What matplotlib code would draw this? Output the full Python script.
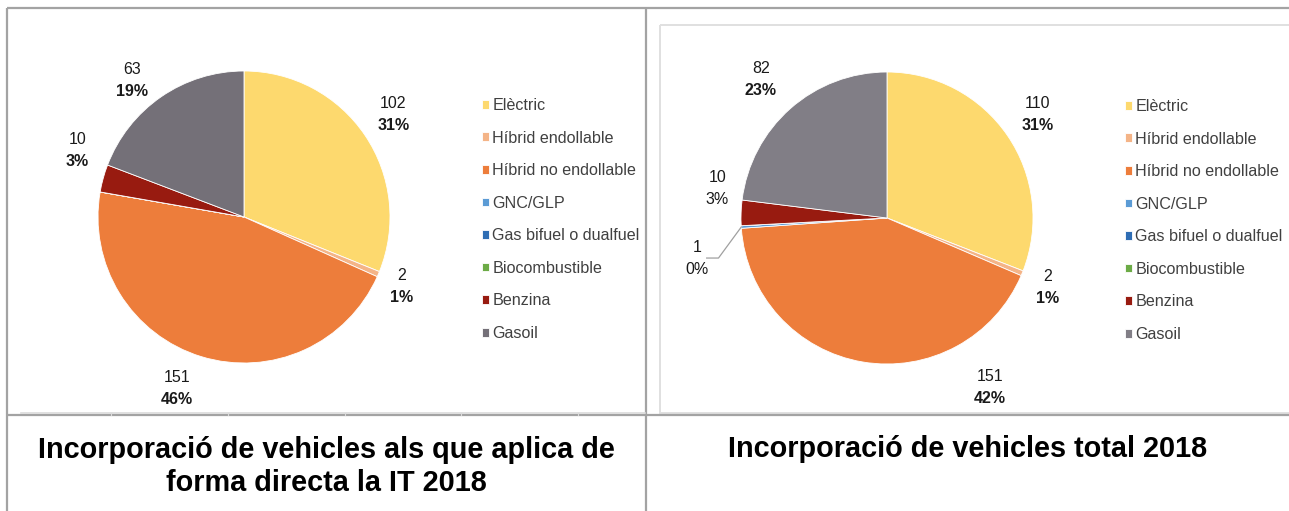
import math
import matplotlib
matplotlib.use("Agg")
import matplotlib.pyplot as plt
from matplotlib.lines import Line2D
from matplotlib.patches import Rectangle

# ---------------- data ----------------
categories = ["Elèctric", "Híbrid endollable", "Híbrid no endollable", "GNC/GLP",
              "Gas bifuel o dualfuel", "Biocombustible", "Benzina", "Gasoil"]
values_it = [102, 2, 151, 0, 0, 0, 10, 63]
values_total = [110, 2, 151, 1, 0, 0, 10, 82]
title_it = "Incorporació de vehicles als que aplica de\nforma directa la IT 2018"
title_total = "Incorporació de vehicles total 2018"

colors_it = ["#FDD96E", "#F4B487", "#ED7D3B", "#5B9BD5", "#2E6DB4", "#6CAB46", "#981B10", "#747078"]
colors_total = ["#FDD96E", "#F4B487", "#ED7D3B", "#5B9BD5", "#2E6DB4", "#6CAB46", "#981B10", "#817E86"]

# label layout (angle in degrees, distance in radii) for each non-zero slice
label_pos_it = [(34.4, 1.24), (-23.9, 1.18), (-111.4, 1.26), (158.1, 1.23), (129.3, 1.21)]
label_pos_total = [(34.5, 1.25), (-23.2, 1.20), (-58.8, 1.36), (191.9, 1.33), (170.0, 1.18), (132.4, 1.28)]
bold_pct_it = [True, True, True, True, True]
bold_pct_total = [True, True, True, False, False, True]

W, H = 1289, 511
plt.rcParams['font.family'] = ['Liberation Sans', 'DejaVu Sans']
fig = plt.figure(figsize=(W / 100, H / 100), dpi=100)

# overlay for the table frame
ov = fig.add_axes([0, 0, 1, 1])
ov.set_xlim(0, W)
ov.set_ylim(H, 0)
ov.axis('off')
frame_c = "#A3A3A3"
for xs, ys in [((7, 1289), (8, 8)), ((7, 7), (8, 511)), ((646, 646), (8, 511)),
               ((7, 1289), (415.5, 415.5))]:
    ov.add_line(Line2D(xs, ys, color=frame_c, lw=1.6, solid_capstyle='butt'))
# faint chart-image borders
ov.add_line(Line2D((21, 645), (412.8, 412.8), color="#DADADA", lw=1.2))
for tx in [111, 228, 345, 461, 578]:
    ov.add_line(Line2D((tx, tx), (412.8, 415), color="#DADADA", lw=0.8))
ov.add_patch(Rectangle((660, 25.5), 700, 387.5, fill=False, ec="#E0E0E0", lw=1.4))

R_PX = 146
S_PX = 215
LBL_FS = 11.5


def draw_pie(cx, cy, vals, cols, lpos, bolds, leg_x, leg_y):
    ax = fig.add_axes([(cx - S_PX) / W, (H - cy - S_PX) / H, 2 * S_PX / W, 2 * S_PX / H])
    r = R_PX / S_PX
    wedges, _ = ax.pie(vals, colors=cols, startangle=90, counterclock=False, radius=r,
                       wedgeprops=dict(edgecolor="white", linewidth=0.6))
    ax.set_xlim(-1, 1)
    ax.set_ylim(-1, 1)
    ax.set_aspect('auto')
    ax.axis('off')
    total = sum(vals)
    k = 0
    cum = 0
    for v in vals:
        if v > 0:
            ang, dist = lpos[k]
            x = dist * r * math.cos(math.radians(ang))
            y = dist * r * math.sin(math.radians(ang))
            dy = 11.0 / S_PX
            ax.text(x, y + dy, f"{v}", ha='center', va='center', fontsize=LBL_FS,
                    color="#1a1a1a", clip_on=False)
            ax.text(x, y - dy, f"{100 * v / total:.0f}%", ha='center', va='center', fontsize=LBL_FS,
                    color="#1a1a1a", fontweight='bold' if bolds[k] else 'normal', clip_on=False)
            if v / total < 0.005:
                mid = 90 - (cum + v / 2) / total * 360
                ex = r * math.cos(math.radians(mid))
                ey = r * math.sin(math.radians(mid))
                ax.plot([ex, x + 0.10, x + 0.045], [ey, y + 0.0, y + 0.0], color="#A0A0A0",
                        lw=0.9, clip_on=False)
            k += 1
        cum += v
    fig.legend(wedges, categories, loc='upper left',
               bbox_to_anchor=(leg_x / W, (H - leg_y) / H), frameon=False,
               fontsize=11.6, handlelength=0.45, handleheight=0.45, handletextpad=0.2,
               labelspacing=1.09, borderpad=0, borderaxespad=0, labelcolor="#404040")


draw_pie(244, 217, values_it, colors_it, label_pos_it, bold_pct_it, 482, 98)
draw_pie(887, 218, values_total, colors_total, label_pos_total, bold_pct_total, 1125, 99)

fig.text(326.5 / W, (H - 466.5) / H, title_it, ha='center', va='center', fontsize=20.8,
         fontweight='bold', color="black", linespacing=1.27)
fig.text(968 / W, (H - 449) / H, title_total, ha='center', va='center', fontsize=20.8,
         fontweight='bold', color="black")

fig.savefig("out.png", dpi=100)
